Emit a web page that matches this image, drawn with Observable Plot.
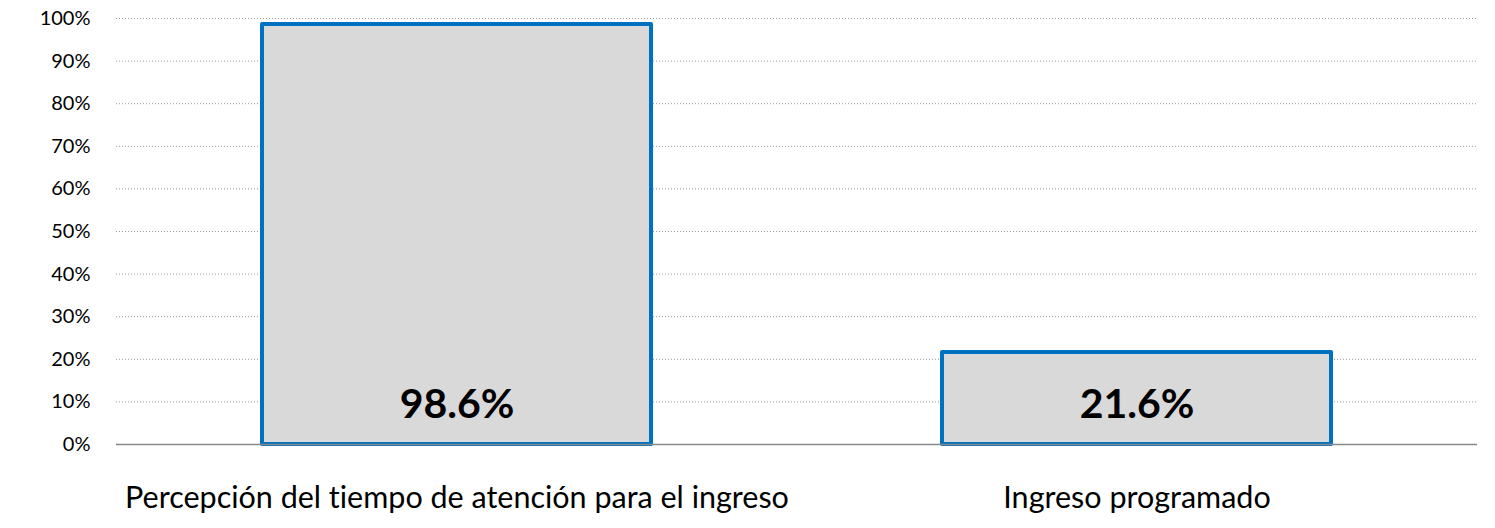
<!DOCTYPE html>
<html>
<head>
<meta charset="utf-8">
<script src="https://cdn.jsdelivr.net/npm/d3@7"></script>
<script src="https://cdn.jsdelivr.net/npm/@observablehq/plot@0.6"></script>
<style>
  html, body { margin: 0; padding: 0; background: #fff; }
  #chart svg { display: block; font-variant-ligatures: none; }
</style>
</head>
<body>
<div id="chart"></div>
<script>
const categories = ["Percepción del tiempo de atención para el ingreso", "Ingreso programado"];
const values = [98.6, 21.6];
const yTicks = [0, 10, 20, 30, 40, 50, 60, 70, 80, 90, 100];

const data = categories.map((c, i) => ({category: c, value: values[i]}));
const font = "Lato, 'Open Sans', sans-serif";

const chart = Plot.plot({
  width: 1495,
  height: 528,
  marginLeft: 116,
  marginRight: 18,
  marginTop: 18,
  marginBottom: 84,
  style: {fontFamily: font, background: "#fff", color: "#000", fontVariantLigatures: "none"},
  x: {domain: categories, paddingInner: 0.428, paddingOuter: 0.214, label: null, tickSize: 0, tickPadding: 42},
  y: {domain: [0, 100], ticks: yTicks, tickFormat: d => d + "%", label: null, tickSize: 0, tickPadding: 26},
  marks: [
    Plot.gridY(yTicks.filter(d => d > 0), {stroke: "#999", strokeOpacity: 1, strokeWidth: 1, strokeDasharray: "1,2"}),
    Plot.barY(data, {x: "category", y: "value", fill: "#D9D9D9", stroke: "#0070C0", strokeWidth: 4, strokeLinejoin: "round"}),
    Plot.ruleY([0], {stroke: "#888", strokeWidth: 1.5}),
    Plot.text(data, {x: "category", y: 0, dy: -40, text: d => d.value.toFixed(1) + "%", fontSize: 41, fontWeight: "bold", fill: "#000"}),
    Plot.axisY({ticks: yTicks, tickFormat: d => d + "%", tickSize: 0, tickPadding: 26, fontSize: 20, label: null}),
    Plot.axisX({tickSize: 0, tickPadding: 42, fontSize: 30.5, label: null})
  ]
});
document.getElementById("chart").appendChild(chart);
</script>
</body>
</html>
